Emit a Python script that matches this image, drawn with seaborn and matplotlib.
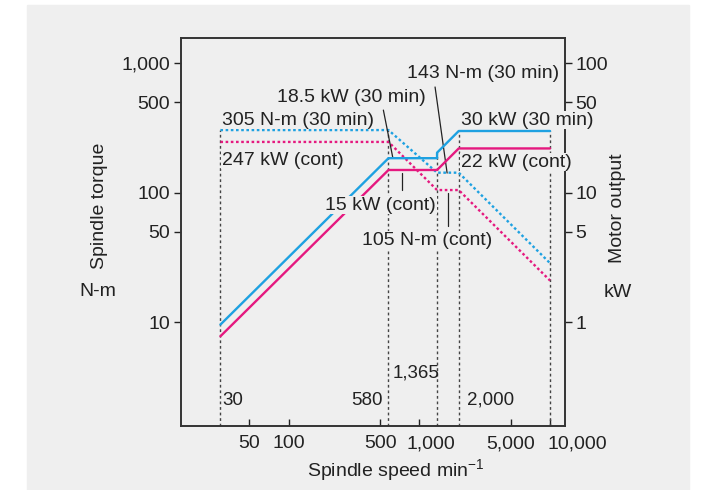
import matplotlib
matplotlib.use("Agg")
import matplotlib.pyplot as plt
import matplotlib.transforms as mtransforms
from matplotlib.patches import Rectangle
from matplotlib.ticker import FixedLocator, FixedFormatter, NullLocator
import pandas as pd
import seaborn as sns

# ── data ──────────────────────────────────────────────
speed = [30, 580, 1365, 2000, 10000]
torque_30min = [305, 305, 143, 143, 28.6]     # N-m
torque_cont = [247, 247, 105, 105, 21]        # N-m

power_speed_30min = [30, 580, 1365, 1365, 2000, 10000]
power_30min = [0.96, 18.5, 18.5, 20.4, 30, 30]  # kW
power_speed_cont = [30, 580, 1365, 2000, 10000]
power_cont = [0.78, 15, 15, 22, 22]            # kW

# heights (left-axis units) reached by the black guide lines
guide_speed = [30, 580, 1365, 2000, 10000]
guide_top = [305, 305, 204, 300, 300]
guide_labels = ["30", "580", "1,365", "2,000"]

x_ticks = [50, 100, 500, 1000, 5000, 10000]
x_labels = ["50", "100", "500", "1,000", "5,000", "10,000"]
yl_ticks = [10, 50, 100, 500, 1000]
yl_labels = ["10", "50", "100", "500", "1,000"]
yr_ticks = [1, 5, 10, 50, 100]
yr_labels = ["1", "5", "10", "50", "100"]

BLUE = "#1ea1e1"
PINK = "#e5197f"
BG = "#efefef"
INK = "#222222"

sns.set_theme(style="ticks")
plt.rcParams["font.family"] = ["Liberation Sans", "DejaVu Sans"]
plt.rcParams["mathtext.default"] = "regular"
plt.rcParams["axes.edgecolor"] = "#333333"
plt.rcParams["axes.linewidth"] = 1.2

fig = plt.figure(figsize=(7.01, 4.90), dpi=100)
fig.patches.append(Rectangle((27 / 701, 0), 662 / 701, 485 / 490,
                             transform=fig.transFigure, color=BG, zorder=-10))

ax = fig.add_axes([0.2578, 0.1312, 0.5478, 0.7912])
ax.set_facecolor("none")
ax.set_xscale("log")
ax.set_yscale("log")
ax.set_xlim(14.9, 12950)
ax.set_ylim(1.59, 1567)

ax2 = ax.twinx()
ax2.set_facecolor("none")
ax2.set_yscale("log")
ax2.set_ylim(0.159, 156.7)

# torque (dotted) on left axis
dots = (0, (1.1, 1.1))
tq = pd.DataFrame({"speed": speed, "t30": torque_30min, "tc": torque_cont})
sns.lineplot(data=tq, x="speed", y="t30", ax=ax, color=BLUE, lw=1.7,
             linestyle=":", dashes=False, estimator=None, sort=False)
sns.lineplot(data=tq, x="speed", y="tc", ax=ax, color=PINK, lw=1.7,
             linestyle=":", dashes=False, estimator=None, sort=False)
for ln in ax.lines:
    ln.set_dashes(dots[1])

# power (solid) on right axis
sns.lineplot(x=power_speed_30min, y=power_30min, ax=ax2, color=BLUE, lw=1.7,
             estimator=None, sort=False)
sns.lineplot(x=power_speed_cont, y=power_cont, ax=ax2, color=PINK, lw=1.7,
             estimator=None, sort=False)

# guide lines
ax.vlines(guide_speed, 1.59, guide_top, colors="#444444", lw=1.0,
          linestyles=(0, (2, 2)), zorder=1)

# leader lines
leaders = [((1318, 656), (1630, 142)),
           ((530, 435), (625, 188)),
           ((733, 141), (733, 104.7)),
           ((1648, 99.3), (1648, 55.2))]
for (x0, y0), (x1, y1) in leaders:
    ax.plot([x0, x1], [y0, y1], color=INK, lw=0.9)

# annotations (drawn on ax2 so they sit above all lines and spines)
box = dict(facecolor=BG, edgecolor="none", pad=0.6)
notes = [("143 N-m (30 min)", 805, 841),
         ("18.5 kW (30 min)", 81.5, 548),
         ("305 N-m (30 min)", 30.9, 364),
         ("30 kW (30 min)", 2083, 364),
         ("247 kW (cont)", 30.9, 179),
         ("22 kW (cont)", 2083, 172.5),
         ("15 kW (cont)", 190, 80.2),
         ("105 N-m (cont)", 364, 43)]
for txt, x, y in notes:
    ax2.text(x, y, txt, transform=ax.transData, fontsize=14, color=INK,
             ha="left", va="center", bbox=box, zorder=6)

small = dict(transform=ax.transData, fontsize=13.5, color=INK, va="center",
             family=["Liberation Sans Narrow", "Liberation Sans"], zorder=6)
ax2.text(30.8, 2.49, guide_labels[0], ha="left", **small)
ax2.text(527, 2.49, guide_labels[1], ha="right", **small)
ax2.text(628, 4.03, guide_labels[2], ha="left", **small)
ax2.text(2317, 2.49, guide_labels[3], ha="left", **small)

# ticks
ax.xaxis.set_major_locator(FixedLocator(x_ticks))
ax.xaxis.set_major_formatter(FixedFormatter(x_labels))
ax.xaxis.set_minor_locator(NullLocator())
ax.yaxis.set_major_locator(FixedLocator(yl_ticks))
ax.yaxis.set_major_formatter(FixedFormatter(yl_labels))
ax.yaxis.set_minor_locator(NullLocator())
ax2.yaxis.set_major_locator(FixedLocator(yr_ticks))
ax2.yaxis.set_major_formatter(FixedFormatter(yr_labels))
ax2.yaxis.set_minor_locator(NullLocator())

ax.tick_params(axis="x", direction="in", length=5, width=1, pad=7,
               labelsize=14, colors=INK, top=False)
ax.tick_params(axis="y", direction="out", length=5, width=1, pad=2.5,
               labelsize=14, colors=INK, right=False)
ax2.tick_params(axis="y", direction="out", length=5, width=1, pad=2.5,
                labelsize=14, colors=INK)
for sp in ax.spines.values():
    sp.set_visible(True)
for sp in ax2.spines.values():
    sp.set_visible(True)

# nudge the comma labels the way the original sets them
shifts = {"1,000": 11, "10,000": 27}
for lab in ax.get_xticklabels():
    dx = shifts.get(lab.get_text(), 0)
    if dx:
        lab.set_transform(lab.get_transform() +
                          mtransforms.ScaledTranslation(dx / 100, 0, fig.dpi_scale_trans))

ax.set_xlabel("")
ax.set_ylabel("")
ax2.set_ylabel("")

# axis titles
fig.text(100 / 701, 1 - 206 / 490, "Spindle torque", rotation=90, fontsize=14,
         color=INK, ha="center", va="center")
fig.text(98 / 701, 1 - 291 / 490, "N-m", fontsize=14, color=INK,
         ha="center", va="center")
fig.text(618 / 701, 1 - 208 / 490, "Motor output", rotation=90, fontsize=14,
         color=INK, ha="center", va="center")
fig.text(618 / 701, 1 - 292 / 490, "kW", fontsize=14, color=INK,
         ha="center", va="center")
fig.text(396 / 701, 1 - 470 / 490, "Spindle speed min$^{-1}$", fontsize=14,
         color=INK, ha="center", va="center")

fig.savefig("out.png", dpi=100)
plt.close(fig)
